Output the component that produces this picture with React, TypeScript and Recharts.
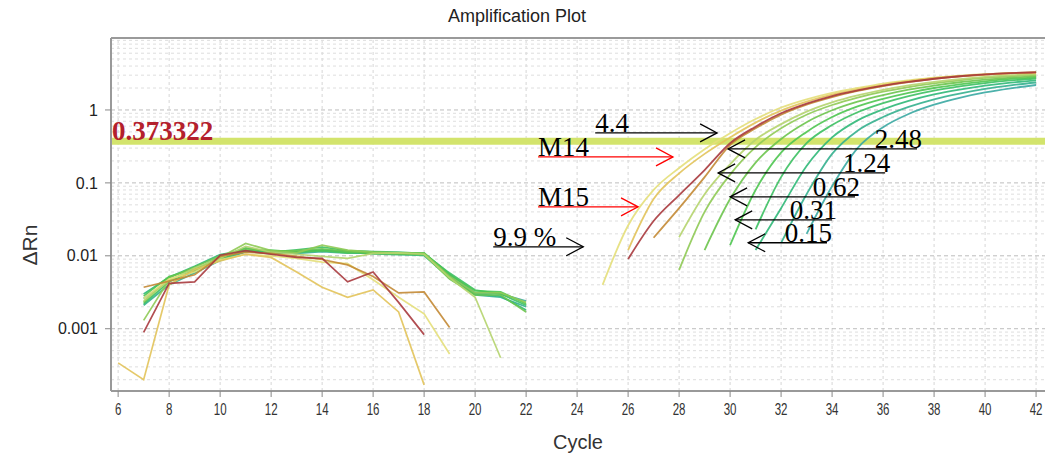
import React from "react";
import { LineChart, Line, XAxis, YAxis, ReferenceLine } from "recharts";

const cycles = [6, 7, 8, 9, 10, 11, 12, 13, 14, 15, 16, 17, 18, 19, 20, 21, 22, 23, 24, 25, 26, 27, 28, 29, 30, 31, 32, 33, 34, 35, 36, 37, 38, 39, 40, 41, 42];
const xTicks = [6, 8, 10, 12, 14, 16, 18, 20, 22, 24, 26, 28, 30, 32, 34, 36, 38, 40, 42];
const yTicks = [0.001, 0.01, 0.1, 1];
const threshold = 0.373322;

// wells, drawn back to front
const wellKeys = ["L", "K", "J", "I", "H", "G", "F", "E", "A", "C", "D", "B"];
const wellColors = ["#3aa8a2", "#34b08e", "#2fb878", "#3cc062", "#4ec550", "#6cc44c", "#8fca55", "#b5d46e", "#e4df7a", "#e2c35a", "#c38a35", "#a83a3e"];
const baseStart = [7, 7, 7, 7, 7, 7, 7, 7, 7, 6, 7, 7];
const ampStart = [33, 32, 31, 31, 30, 29, 28, 28, 25, 26, 27, 26];

const baseA = [0.0026, 0.0048, 0.006, 0.0088, 0.0105, 0.01, 0.0092, 0.0082, 0.0078, 0.0047, 0.0027, 0.0016, 0.00045];
const baseB = [0.00089, 0.0042, 0.0044, 0.0102, 0.0118, 0.0105, 0.0095, 0.0092, 0.0044, 0.006, 0.0023, 0.00083];
const baseC = [0.00034, 0.0002, 0.004, 0.0065, 0.0085, 0.0105, 0.0095, 0.006, 0.0037, 0.0027, 0.0034, 0.0017, 0.00017];
const baseD = [0.0037, 0.0045, 0.0055, 0.0098, 0.0112, 0.0108, 0.0098, 0.0089, 0.0075, 0.0052, 0.0031, 0.0032, 0.00104];
const baseE = [0.0024, 0.0046, 0.0068, 0.0092, 0.0135, 0.0112, 0.0105, 0.0098, 0.0092, 0.0108, 0.011, 0.0105, 0.005, 0.0027, 0.0004];
const baseF = [0.0013, 0.0047, 0.0062, 0.0095, 0.0148, 0.0118, 0.011, 0.014, 0.012, 0.0112, 0.011, 0.0108, 0.0052, 0.0031, 0.0031, 0.0023];
const baseG = [0.0023, 0.005, 0.007, 0.01, 0.0125, 0.0115, 0.0118, 0.0125, 0.0115, 0.0108, 0.0106, 0.0104, 0.0048, 0.0029, 0.0029, 0.0017];
const baseH = [0.0028, 0.0052, 0.0066, 0.009, 0.0118, 0.012, 0.0112, 0.0118, 0.011, 0.0112, 0.0108, 0.011, 0.0055, 0.0033, 0.0032, 0.0022];
const baseI = [0.0022, 0.0044, 0.0064, 0.0096, 0.0128, 0.0112, 0.0121, 0.0132, 0.0118, 0.0114, 0.0112, 0.0107, 0.0058, 0.0034, 0.003, 0.0021];
const baseJ = [0.003, 0.0051, 0.0072, 0.0104, 0.012, 0.0109, 0.0115, 0.0121, 0.0113, 0.0106, 0.0104, 0.0101, 0.005, 0.003, 0.0028, 0.0018];
const baseK = [0.0021, 0.004, 0.0058, 0.0086, 0.0113, 0.0117, 0.0108, 0.0114, 0.0109, 0.011, 0.0107, 0.0105, 0.0053, 0.0029, 0.0027, 0.002];
const baseL = [0.0026, 0.0046, 0.0061, 0.009, 0.0116, 0.0106, 0.0113, 0.0119, 0.0116, 0.0113, 0.0109, 0.0108, 0.0056, 0.0031, 0.003, 0.0024];

const ampA = [0.004, 0.026, 0.08, 0.16, 0.29, 0.48, 0.75, 1.08, 1.4, 1.72, 2.0, 2.3, 2.55, 2.78, 2.95, 3.1, 3.2, 3.25];
const ampB = [0.009, 0.03, 0.068, 0.15, 0.35, 0.59, 0.9, 1.22, 1.55, 1.85, 2.15, 2.42, 2.68, 2.9, 3.08, 3.2, 3.28];
const ampC = [0.012, 0.06, 0.135, 0.25, 0.42, 0.67, 0.98, 1.3, 1.62, 1.92, 2.2, 2.48, 2.72, 2.9, 3.05, 3.17, 3.24];
const ampD = [0.0177, 0.045, 0.12, 0.33, 0.56, 0.86, 1.18, 1.5, 1.82, 2.12, 2.4, 2.66, 2.88, 3.06, 3.2, 3.3];
const ampE = [0.018, 0.07, 0.18, 0.39, 0.64, 0.95, 1.27, 1.58, 1.88, 2.17, 2.42, 2.65, 2.85, 3.0, 3.1];
const ampF = [0.0064, 0.04, 0.13, 0.31, 0.56, 0.86, 1.17, 1.48, 1.78, 2.06, 2.32, 2.55, 2.75, 2.9, 3.02];
const ampG = [0.012, 0.06, 0.19, 0.4, 0.68, 0.99, 1.3, 1.6, 1.9, 2.16, 2.4, 2.6, 2.78, 2.92];
const ampH = [0.014, 0.08, 0.26, 0.5, 0.8, 1.12, 1.42, 1.72, 2.0, 2.25, 2.47, 2.66, 2.8];
const ampI = [0.023, 0.12, 0.35, 0.62, 0.93, 1.24, 1.55, 1.84, 2.1, 2.34, 2.54, 2.7];
const ampJ = [0.012, 0.045, 0.17, 0.42, 0.72, 1.02, 1.33, 1.63, 1.9, 2.15, 2.37, 2.55];
const ampK = [0.015, 0.07, 0.25, 0.52, 0.8, 1.1, 1.4, 1.68, 1.95, 2.18, 2.38];
const ampL = [0.02, 0.09, 0.3, 0.58, 0.88, 1.18, 1.47, 1.74, 1.98, 2.2];

const baseSets = [baseL, baseK, baseJ, baseI, baseH, baseG, baseF, baseE, baseA, baseC, baseD, baseB];
const ampSets = [ampL, ampK, ampJ, ampI, ampH, ampG, ampF, ampE, ampA, ampC, ampD, ampB];

// hand annotations: tail x, tip x, level
const noteText = ["4.4", "M14", "2.48", "1.24", "0.62", "M15", "0.31", "0.15", "9.9 %"];
const noteTail = [24.71, 22.47, 37.33, 36.08, 34.9, 22.47, 34.0, 33.8, 20.71];
const noteTip = [29.49, 27.76, 29.92, 29.53, 30.0, 26.39, 30.2, 30.71, 24.24];
const noteLevel = [0.484, 0.227, 0.292, 0.137, 0.0643, 0.0469, 0.0311, 0.0151, 0.0133];
const noteColor = ["#000", "#ff0000", "#000", "#000", "#000", "#ff0000", "#000", "#000", "#000"];

const decades = [0.0001, 0.001, 0.01, 0.1, 1];
const minorGrid: number[] = [];
decades.forEach((d) => [2, 3, 4, 5, 6, 7, 8, 9].forEach((m) => {
  const v = d * m;
  if (v > 0.00014 && v < 9.7) minorGrid.push(v);
}));

const data = cycles.map((c) => {
  const row: Record<string, number | null> = { cycle: c };
  wellKeys.forEach((k, i) => {
    const b = c >= baseStart[i] ? baseSets[i][c - baseStart[i]] : undefined;
    const a = c >= ampStart[i] ? ampSets[i][c - ampStart[i]] : undefined;
    row[`${k}b`] = b !== undefined ? b : null;
    row[`${k}a`] = a !== undefined ? a : null;
  });
  return row;
});

function Arrow(props: any) {
  const { x1, y1, x2, y2, text, color } = props;
  if (x1 == null || x2 == null) return null;
  const dir = x2 > x1 ? 1 : -1;
  const hx = x2 - dir * 17;
  return (
    <g>
      <line x1={x1} y1={y1} x2={x2} y2={y2} stroke={color} strokeWidth={1.3} />
      <polyline points={`${hx},${y2 - 9} ${x2},${y2} ${hx},${y2 + 9}`} fill="none" stroke={color} strokeWidth={1.3} />
      <text
        x={dir > 0 ? x1 : x1 + 5}
        y={y1 - 1}
        textAnchor={dir > 0 ? "start" : "end"}
        fontFamily="'Liberation Serif', 'Times New Roman', serif"
        fontSize={27}
        fill="#000"
      >
        {text}
      </text>
    </g>
  );
}

function XTick(props: any) {
  const { x, y, payload } = props;
  return (
    <g transform={`translate(${x},${y})`}>
      <text textAnchor="middle" dy="0.71em" fontSize={16} fill="#333" transform="scale(0.72,1)" fontFamily="'Liberation Sans', Arial, sans-serif">
        {payload.value}
      </text>
    </g>
  );
}

export default function App() {
  return (
    <div style={{ position: "absolute", left: 0, top: 0, width: 1045, height: 458, background: "#fff", overflow: "hidden" }}>
      <div style={{ position: "absolute", left: 517, top: 6, transform: "translateX(-50%)", fontFamily: "'Liberation Sans', Arial, sans-serif", fontSize: 18, color: "#222", whiteSpace: "nowrap" }}>
        Amplification Plot
      </div>
      <div style={{ position: "absolute", left: 30, top: 245, transform: "translate(-50%,-50%) rotate(-90deg)", fontFamily: "'Liberation Sans', Arial, sans-serif", fontSize: 21, color: "#333", whiteSpace: "nowrap" }}>
        ΔRn
      </div>
      <LineChart width={1045} height={458} data={data} margin={{ top: 38, right: 0, bottom: 0, left: 0 }}>
        {xTicks.map((x) => (
          <ReferenceLine key={`vx${x}`} x={x} stroke="#d6d6d6" strokeDasharray="3 3" />
        ))}
        {minorGrid.map((v) => (
          <ReferenceLine key={`my${v}`} y={v} stroke="#dedede" strokeDasharray="3 3" />
        ))}
        {yTicks.map((v) => (
          <ReferenceLine key={`dy${v}`} y={v} stroke="#bdbdbd" strokeDasharray="4 3" />
        ))}
        <ReferenceLine y={9.7} stroke="#9a9a9a" strokeWidth={2} />
        <ReferenceLine
          y={threshold}
          stroke="#d3e46c"
          strokeWidth={7}
          label={{ value: "0.373322", position: "insideBottomLeft", offset: 1, fill: "#b3202c", fontSize: 27, fontWeight: "bold", fontFamily: "'Liberation Serif', 'Times New Roman', serif" }}
        />
        <XAxis
          dataKey="cycle"
          type="number"
          domain={[5.72, 42.35]}
          ticks={xTicks}
          allowDataOverflow
          height={67}
          tick={<XTick />}
          tickSize={6}
          tickMargin={7}
          stroke="#999"
          axisLine={{ stroke: "#999", strokeWidth: 2 }}
          tickLine={{ stroke: "#888" }}
          label={{ value: "Cycle", position: "insideBottom", offset: 9, fontSize: 20, fill: "#333", fontFamily: "'Liberation Sans', Arial, sans-serif" }}
        />
        <YAxis
          type="number"
          scale="log"
          domain={[0.00014, 9.7]}
          ticks={yTicks}
          allowDataOverflow
          width={111}
          tickSize={6}
          tickMargin={7}
          tickFormatter={(v: number) => String(v)}
          tick={{ fontSize: 16, fill: "#222", fontFamily: "'Liberation Sans', Arial, sans-serif" }}
          axisLine={{ stroke: "#999", strokeWidth: 2 }}
          tickLine={{ stroke: "#888" }}
        />
        {wellKeys.map((k, i) => (
          <Line
            key={`${k}b`}
            dataKey={`${k}b`}
            type="linear"
            stroke={wellColors[i]}
            strokeWidth={1.7}
            strokeOpacity={0.9}
            dot={false}
            connectNulls={false}
            isAnimationActive={false}
          />
        ))}
        {wellKeys.map((k, i) => (
          <Line
            key={`${k}a`}
            dataKey={`${k}a`}
            type="monotone"
            stroke={wellColors[i]}
            strokeWidth={1.8}
            strokeOpacity={0.9}
            dot={false}
            connectNulls={false}
            isAnimationActive={false}
          />
        ))}
        {noteText.map((t, i) => (
          <ReferenceLine
            key={`n${i}`}
            segment={[{ x: noteTail[i], y: noteLevel[i] }, { x: noteTip[i], y: noteLevel[i] }]}
            ifOverflow="visible"
            shape={(p: any) => <Arrow {...p} text={t} color={noteColor[i]} />}
          />
        ))}
      </LineChart>
    </div>
  );
}
